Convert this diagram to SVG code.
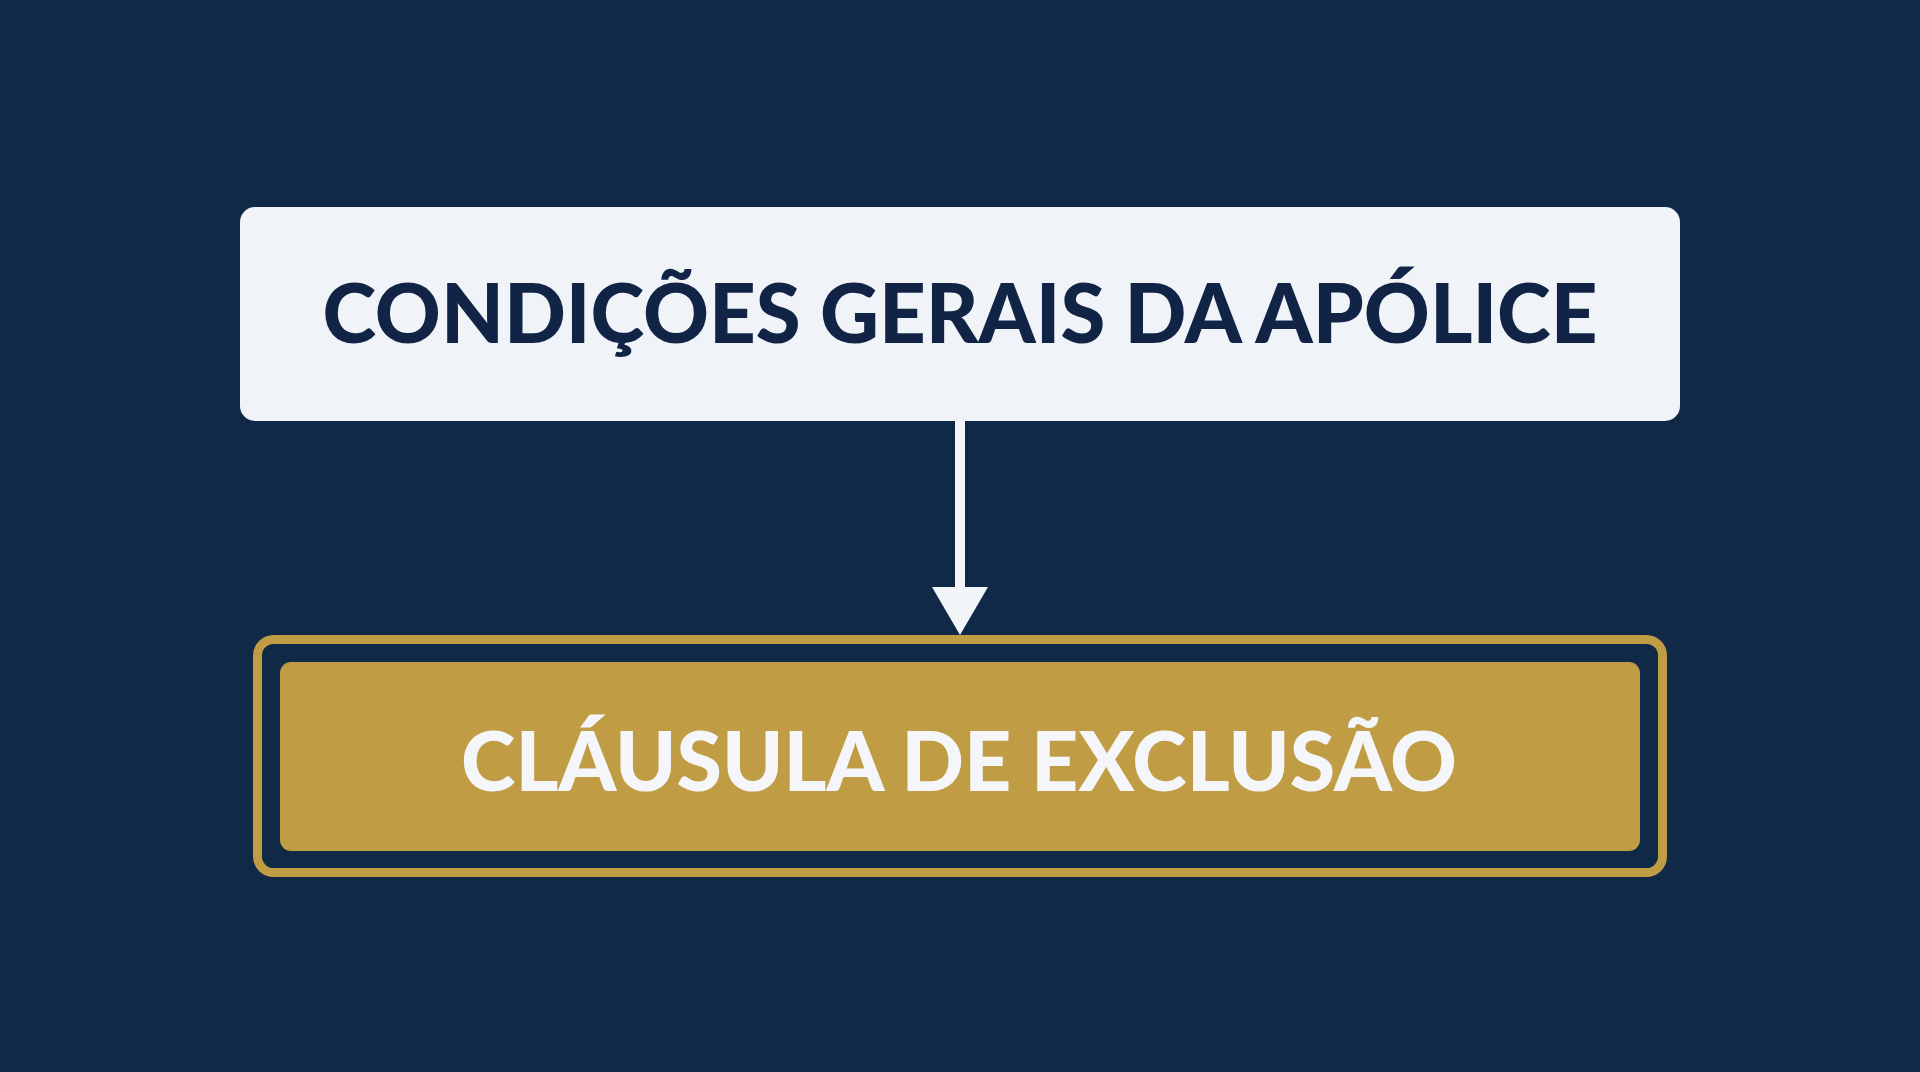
<svg xmlns="http://www.w3.org/2000/svg" width="1920" height="1072" viewBox="0 0 1920 1072">
  <defs>
    <style>
      .bg { fill: #0f2946; }
      .box-light { fill: #f0f4f9; }
      .label { font-family: "Lato", "Noto Sans", "Liberation Sans", sans-serif; font-weight: 900; font-size: 81px; text-anchor: middle; }
      .dark { fill: #112446; }
      .light { fill: #f4f6f9; }
      .gold-fill { fill: #c09c45; }
      .gold-ring { fill: none; stroke: #c09c45; stroke-width: 9; }
      .conn { stroke: #f2f5f9; stroke-width: 10; fill: none; }
    </style>
    <marker id="arrow" markerUnits="userSpaceOnUse" markerWidth="48" markerHeight="56" viewBox="0 0 48 56" refX="0" refY="28" orient="auto">
      <polygon points="0,0 48,28 0,56" fill="#f2f5f9"/>
    </marker>
  </defs>
  <rect class="bg" x="0" y="0" width="1920" height="1072"/>

  <g id="connectors">
    <line class="conn" x1="960" y1="421" x2="960" y2="587" marker-end="url(#arrow)"/>
  </g>

  <g id="node-condicoes">
    <rect class="box-light" x="240" y="207" width="1440" height="214" rx="15" ry="15"/>
    <text class="label dark" x="960" y="343" textLength="1275" lengthAdjust="spacingAndGlyphs">CONDIÇÕES GERAIS DA APÓLICE</text>
  </g>

  <g id="node-clausula">
    <rect class="gold-ring" x="257.5" y="639.5" width="1405" height="233" rx="16" ry="16"/>
    <rect class="gold-fill" x="280" y="662" width="1360" height="189" rx="11" ry="11"/>
    <text class="label light" x="959" y="791" textLength="996" lengthAdjust="spacingAndGlyphs">CLÁUSULA DE EXCLUSÃO</text>
  </g>
</svg>
